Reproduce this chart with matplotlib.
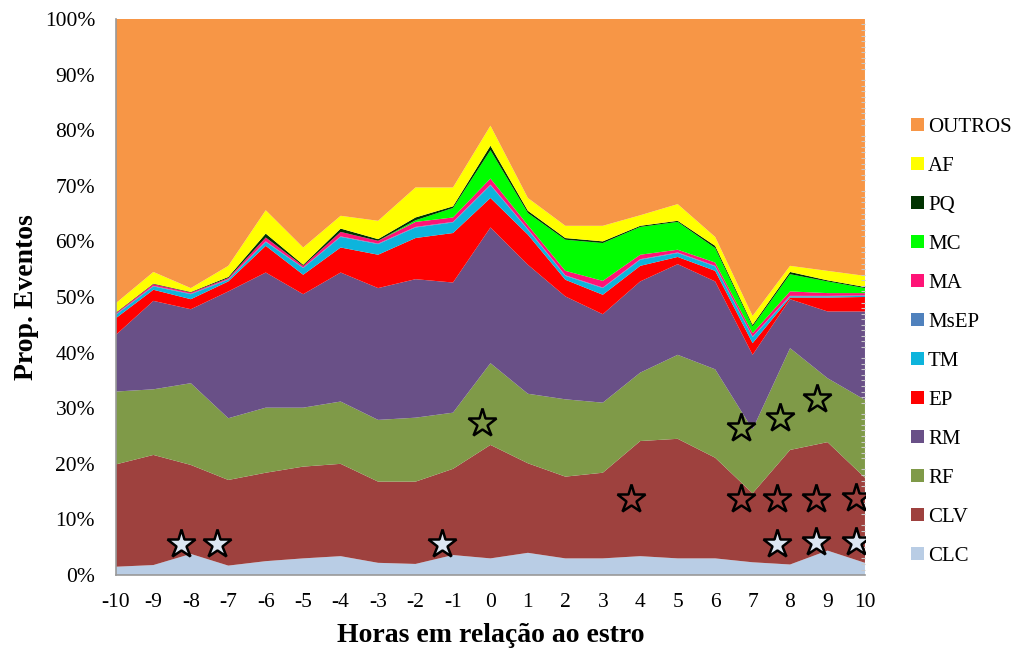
import matplotlib
matplotlib.use('Agg')
import matplotlib.pyplot as plt
import matplotlib.patches as patches
from matplotlib.ticker import FixedLocator, PercentFormatter

import numpy as np

hours = list(range(-10, 11))

# Proportion of events per category (%), bottom to top of the stack
clc   = [1.5, 1.8, 3.8, 1.7, 2.5, 3.0, 3.4, 2.2, 2.0, 3.6, 3.0, 4.0, 3.0, 3.0, 3.4, 3.0, 3.0, 2.3, 1.9, 4.4, 2.2]
clv   = [18.4, 19.8, 16.0, 15.4, 15.9, 16.5, 16.6, 14.6, 14.8, 15.5, 20.4, 16.1, 14.7, 15.4, 20.7, 21.5, 18.1, 12.4, 20.6, 19.5, 15.3]
rf    = [13.1, 11.8, 14.7, 11.1, 11.7, 10.6, 11.2, 11.1, 11.5, 10.1, 14.7, 12.5, 13.9, 12.6, 12.3, 15.1, 15.9, 11.5, 18.3, 11.5, 14.0]
rm    = [10.2, 15.9, 13.3, 22.8, 24.3, 20.4, 23.2, 23.7, 24.9, 23.4, 24.4, 23.2, 18.5, 15.9, 16.4, 16.3, 15.8, 13.4, 8.8, 12.0, 15.9]
ep    = [3.0, 2.0, 1.8, 1.8, 4.8, 3.5, 4.5, 6.0, 7.4, 8.9, 5.3, 5.4, 3.0, 3.5, 2.8, 1.3, 1.9, 2.1, 0.3, 2.5, 2.6]
tm    = [0.6, 0.6, 0.9, 0.3, 0.7, 1.2, 1.9, 1.9, 1.9, 1.9, 2.3, 0.9, 0.7, 1.2, 1.1, 0.7, 0.8, 1.1, 0.2, 0.2, 0.2]
msep  = [0.1, 0.1, 0.1, 0.1, 0.1, 0.1, 0.1, 0.1, 0.1, 0.1, 0.1, 0.1, 0.1, 0.1, 0.1, 0.1, 0.1, 0.1, 0.1, 0.1, 0.1]
ma    = [0.2, 0.3, 0.2, 0.2, 0.7, 0.3, 0.8, 0.5, 0.9, 0.8, 1.1, 0.7, 0.8, 1.2, 0.8, 0.5, 0.6, 0.6, 0.8, 0.5, 0.4]
mc    = [0.0, 0.0, 0.0, 0.0, 0.0, 0.0, 0.0, 0.0, 0.3, 1.7, 5.1, 2.2, 5.6, 6.8, 5.0, 5.0, 2.6, 1.2, 3.1, 2.1, 0.9]
pq    = [0.1, 0.1, 0.1, 0.2, 0.7, 0.2, 0.6, 0.3, 0.5, 0.3, 0.8, 0.4, 0.3, 0.3, 0.2, 0.2, 0.4, 0.3, 0.4, 0.2, 0.2]
af    = [1.7, 2.1, 0.7, 2.0, 4.2, 3.1, 2.3, 3.3, 5.4, 3.4, 3.6, 2.3, 2.2, 2.8, 1.9, 3.0, 1.6, 1.6, 1.1, 1.7, 2.0]
outros = [51.1, 45.5, 48.4, 44.4, 34.4, 41.1, 35.4, 36.3, 30.3, 30.3, 19.2, 32.2, 37.2, 37.2, 35.3, 33.3, 39.2, 53.4, 44.4, 45.3, 46.2]

labels = ['CLC', 'CLV', 'RF', 'RM', 'EP', 'TM', 'MsEP', 'MA', 'MC', 'PQ', 'AF', 'OUTROS']
colors = ['#B9CDE5', '#9E413E', '#7F9A48', '#695087', '#FF0000', '#0DB4DC',
          '#4F81BD', '#FF1477', '#00FF00', '#003300', '#FFFF00', '#F79646']

# Significance stars: (hour, proportion %)
stars_white = [(-8.25, 5.5), (-7.3, 5.5), (-1.3, 5.5), (7.65, 5.6), (8.7, 5.9), (9.75, 5.9)]
stars_clv = [(3.75, 13.7), (6.7, 13.7), (7.65, 13.7), (8.7, 13.7), (9.75, 13.9)]
stars_rf = [(-0.23, 27.3), (6.7, 26.4), (7.73, 28.2), (8.72, 31.7)]

series = [clc, clv, rf, rm, ep, tm, msep, ma, mc, pq, af, outros]
data = np.array(series) / 100.0

plt.rcParams['font.family'] = ['Liberation Serif', 'DejaVu Serif']
plt.rcParams['axes.unicode_minus'] = False

fig = plt.figure(figsize=(10.17, 6.52), dpi=100)
ax = fig.add_axes([0.114, 0.118, 0.7365, 0.853])

ax.stackplot(hours, data, colors=colors, labels=labels, linewidth=0)

def draw_stars(pts, face):
    xs = [p[0] for p in pts]
    ys = [p[1] / 100.0 for p in pts]
    ax.plot(xs, ys, linestyle='none', marker='*', markersize=21,
            markerfacecolor=face, markeredgecolor='black', markeredgewidth=1.8, zorder=5)

draw_stars(stars_white, '#DCE6F2')
draw_stars(stars_clv, '#9E413E')
draw_stars(stars_rf, '#7F9A48')

ax.set_xlim(-10, 10)
ax.set_ylim(0, 1)
ax.set_xticks(hours)
ax.set_yticks(np.arange(0, 1.01, 0.1))
ax.yaxis.set_major_formatter(PercentFormatter(1.0, decimals=0))
ax.tick_params(axis='both', length=0, labelsize=15.5)
ax.tick_params(axis='y', pad=15)
ax.tick_params(axis='x', pad=13)

# faint minor ticks along the right edge
ax.yaxis.set_minor_locator(FixedLocator(np.arange(0, 1.001, 0.01)))
ax.tick_params(axis='y', which='minor', right=True, left=False, direction='in',
               length=3, color='#C8C8C8', width=0.8)

for side in ['top', 'right']:
    ax.spines[side].set_visible(False)
for side in ['left', 'bottom']:
    ax.spines[side].set_color('#999999')
    ax.spines[side].set_linewidth(1.2)

ax.set_ylabel('Prop. Eventos', fontsize=20, fontweight='bold', labelpad=4)
ax.set_xlabel('Horas em relação ao estro', fontsize=20, fontweight='bold', labelpad=8)

handles = [patches.Patch(facecolor=c, edgecolor='none') for c in colors][::-1]
fig.legend(handles, labels[::-1], loc='upper left', bbox_to_anchor=(0.888, 0.832),
           frameon=False, fontsize=15, handlelength=0.58, handleheight=0.58,
           handletextpad=0.22, labelspacing=0.96, borderaxespad=0)

fig.savefig('out.png', dpi=100)
